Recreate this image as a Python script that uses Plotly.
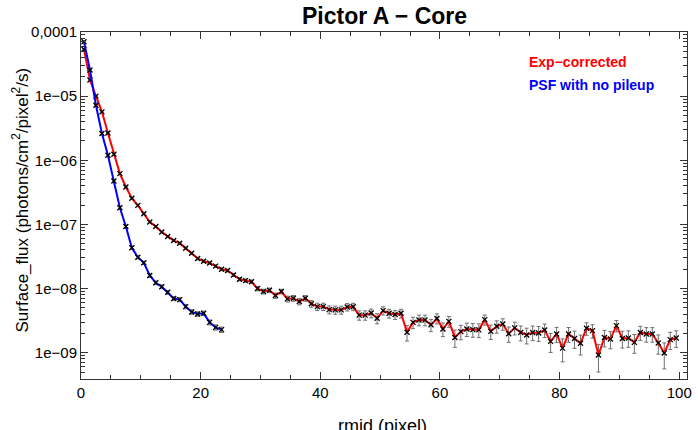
import plotly.graph_objects as go

# ---------------- data ----------------
rmid_exp = [0.5, 1.5, 2.5, 3.5, 4.5, 5.5, 6.5, 7.5, 8.5, 9.5,
            10.5, 11.5, 12.5, 13.5, 14.5, 15.5, 16.5, 17.5, 18.5, 19.5,
            20.5, 21.5, 22.5, 23.5, 24.5, 25.5, 26.5, 27.5, 28.5, 29.5,
            30.5, 31.5, 32.5, 33.5, 34.5, 35.5, 36.5, 37.5, 38.5, 39.5,
            40.5, 41.5, 42.5, 43.5, 44.5, 45.5, 46.5, 47.5, 48.5, 49.5,
            50.5, 51.5, 52.5, 53.5, 54.5, 55.5, 56.5, 57.5, 58.5, 59.5,
            60.5, 61.5, 62.5, 63.5, 64.5, 65.5, 66.5, 67.5, 68.5, 69.5,
            70.5, 71.5, 72.5, 73.5, 74.5, 75.5, 76.5, 77.5, 78.5, 79.5,
            80.5, 81.5, 82.5, 83.5, 84.5, 85.5, 86.5, 87.5, 88.5, 89.5,
            90.5, 91.5, 92.5, 93.5, 94.5, 95.5, 96.5, 97.5, 98.5, 99.5]

flux_exp = [5.37e-5, 1.78e-5, 1.0e-5, 5.69e-6, 2.67e-6, 1.24e-6, 6.2e-7, 3.83e-7, 2.56e-7, 1.98e-7,
            1.47e-7, 1.09e-7, 9.3e-8, 7.6e-8, 6.5e-8, 5.6e-8, 5.1e-8, 4.26e-8, 3.56e-8, 2.94e-8,
            2.67e-8, 2.5e-8, 2.24e-8, 2.0e-8, 1.91e-8, 1.63e-8, 1.4e-8, 1.33e-8, 1.28e-8, 1.0e-8,
            9.0e-9, 9.4e-9, 7.78e-9, 9.0e-9, 6.9e-9, 7.05e-9, 6.27e-9, 7.05e-9, 5.8e-9, 5.23e-9,
            5.23e-9, 4.7e-9, 4.65e-9, 4.65e-9, 5.15e-9, 5.2e-9, 3.85e-9, 3.85e-9, 4.15e-9, 3.44e-9,
            4.53e-9, 4.11e-9, 3.93e-9, 4.11e-9, 2.08e-9, 2.97e-9, 3.24e-9, 3.24e-9, 2.72e-9, 3.42e-9,
            2.34e-9, 3.08e-9, 1.73e-9, 2.13e-9, 2.34e-9, 2.29e-9, 2.27e-9, 3.28e-9, 2.15e-9, 2.58e-9,
            2.81e-9, 1.98e-9, 2.44e-9, 2.07e-9, 1.89e-9, 2.07e-9, 2.03e-9, 2.26e-9, 1.5e-9, 1.96e-9,
            1.18e-9, 1.96e-9, 1.67e-9, 1.4e-9, 2.4e-9, 2.21e-9, 9.2e-10, 1.73e-9, 1.64e-9, 2.64e-9,
            1.67e-9, 1.7e-9, 1.45e-9, 2.07e-9, 1.96e-9, 1.96e-9, 1.42e-9, 9.9e-10, 1.6e-9, 1.7e-9]

err_exp = [1.5e-6, 5e-7, 2.8e-7, 1.6e-7, 8e-8, 4e-8, 2e-8, 1.3e-8, 9e-9, 7e-9,
           4e-9, 3.5e-9, 3e-9, 2.6e-9, 2.3e-9, 2e-9, 1.8e-9, 1.6e-9, 1.4e-9, 1.3e-9,
           1.2e-9, 1.1e-9, 1.05e-9, 1e-9, 9.5e-10, 9e-10, 8.5e-10, 8.2e-10, 8e-10, 7.8e-10,
           7.6e-10, 7.6e-10, 7.4e-10, 7.5e-10, 7.2e-10, 7.2e-10, 7e-10, 7.1e-10, 6.9e-10, 6.8e-10,
           6.8e-10, 6.7e-10, 6.7e-10, 6.6e-10, 6.8e-10, 6.8e-10, 6.4e-10, 6.4e-10, 6.5e-10, 6.2e-10,
           6.6e-10, 6.4e-10, 6.3e-10, 6.4e-10, 5.6e-10, 6e-10, 6.1e-10, 6.1e-10, 5.9e-10, 6.1e-10,
           5.6e-10, 5.9e-10, 5.2e-10, 5.4e-10, 5.5e-10, 5.5e-10, 5.5e-10, 5.9e-10, 5.4e-10, 5.6e-10,
           5.7e-10, 5.3e-10, 5.5e-10, 5.4e-10, 5.2e-10, 5.3e-10, 5.3e-10, 5.4e-10, 4.9e-10, 5.2e-10,
           4.6e-10, 5.1e-10, 5.0e-10, 4.8e-10, 5.3e-10, 5.2e-10, 4.2e-10, 5.0e-10, 4.9e-10, 5.3e-10,
           4.9e-10, 4.9e-10, 4.7e-10, 5.1e-10, 5.0e-10, 5.0e-10, 4.7e-10, 4.3e-10, 4.8e-10, 4.9e-10]

rmid_psf = [0.5, 1.5, 2.5, 3.5, 4.5, 5.5, 6.5, 7.5, 8.5, 9.5, 10.5, 11.5,
            12.5, 13.5, 14.5, 15.5, 16.5, 17.5, 18.5, 19.5, 20.5, 21.5, 22.5, 23.5]

flux_psf = [7.05e-5, 2.55e-5, 7.2e-6, 2.61e-6, 1.2e-6, 4.75e-7, 1.82e-7, 9.3e-8,
            4.33e-8, 3.08e-8, 2.52e-8, 1.6e-8, 1.23e-8, 1.07e-8, 8.75e-9, 6.98e-9,
            6.73e-9, 5.23e-9, 4.32e-9, 4.02e-9, 4.11e-9, 2.97e-9, 2.48e-9, 2.29e-9]

err_psf = [1.5e-6, 6e-7, 2e-7, 8e-8, 4e-8, 1.8e-8, 8e-9, 4.5e-9,
           2.3e-9, 1.7e-9, 1.4e-9, 1e-9, 8e-10, 7e-10, 6e-10, 5e-10,
           5e-10, 4e-10, 3.5e-10, 3.3e-10, 3.3e-10, 2.6e-10, 2.3e-10, 2.2e-10]

ytick_vals = [1e-9, 1e-8, 1e-7, 1e-6, 1e-5, 1e-4]
ytick_text = ["1e\u221209", "1e\u221208", "1e\u221207", "1e\u221206", "1e\u221205", "0,0001"]

title_text = "Pictor A \u2212 Core"
xtitle_text = "rmid (pixel)"
ytitle_text = "Surface_flux (photons/cm<sup>2</sup>/pixel<sup>2</sup>/s)"
legend_exp = "Exp\u2212corrected"
legend_psf = "PSF with no pileup"

# ---------------- figure ----------------
FONT = "Liberation Sans, Arial, Helvetica, sans-serif"
marker_style = dict(symbol="x-thin-open", size=5, color="black",
                    line=dict(color="black", width=1.3))

fig = go.Figure()
fig.add_trace(go.Scatter(
    x=rmid_exp, y=flux_exp, mode="lines+markers",
    line=dict(color="#ff0000", width=2),
    marker=marker_style,
    error_y=dict(type="data", array=err_exp, color="#707070", thickness=1, width=2),
    showlegend=False))
fig.add_trace(go.Scatter(
    x=rmid_psf, y=flux_psf, mode="lines+markers",
    line=dict(color="#0000ff", width=2),
    marker=marker_style,
    error_y=dict(type="data", array=err_psf, color="#707070", thickness=1, width=2),
    showlegend=False))

minor_y = [m * 10.0 ** e for e in range(-10, -4) for m in range(2, 10)]

fig.update_layout(
    width=698, height=430,
    margin=dict(l=81, r=6, t=32, b=51),
    paper_bgcolor="white", plot_bgcolor="white",
    font=dict(family=FONT, color="black", size=15),
    xaxis=dict(range=[0, 101.3], showgrid=False, zeroline=False,
               showline=True, linecolor="#333333", linewidth=1, mirror="ticks",
               ticks="inside", ticklen=7, tickwidth=1, tickcolor="#333333",
               tick0=0, dtick=20, tickfont=dict(size=15, family=FONT, color="black"),
               minor=dict(ticks="inside", ticklen=4, dtick=5, tick0=0,
                          tickcolor="#333333", showgrid=False)),
    yaxis=dict(type="log", range=[-9.41, -4.0], showgrid=False, zeroline=False,
               showline=True, linecolor="#333333", linewidth=1, mirror="ticks",
               ticks="inside", ticklen=7, tickwidth=1, tickcolor="#333333",
               tickmode="array", tickvals=ytick_vals, ticktext=ytick_text,
               tickfont=dict(size=15, family=FONT, color="black"),
               minor=dict(ticks="inside", ticklen=4, tickmode="array",
                          tickvals=minor_y, tickcolor="#333333", showgrid=False)),
)

fig.add_annotation(text="<b>%s</b>" % title_text, xref="paper", yref="paper",
                   x=0.5, y=1 + (32 - 16) / 347, xanchor="center", yanchor="middle",
                   showarrow=False, font=dict(size=23, family=FONT, color="black"))
fig.add_annotation(text=ytitle_text, xref="paper", yref="paper",
                   x=(20 - 81) / 611, y=(379 - 200) / 347, textangle=-90,
                   xanchor="center", yanchor="middle", showarrow=False,
                   font=dict(size=17, family=FONT, color="black"))
fig.add_annotation(text=xtitle_text, xref="paper", yref="paper",
                   x=0.4975, y=(379 - 414) / 347, xanchor="center", yanchor="top",
                   showarrow=False, font=dict(size=18, family=FONT, color="black"))
fig.add_annotation(text="<b>%s</b>" % legend_exp, xref="paper", yref="paper",
                   x=(531 - 81) / 611, y=(379 - 62) / 347, xanchor="left", yanchor="middle",
                   showarrow=False, font=dict(size=14, family=FONT, color="#ff0000"))
fig.add_annotation(text="<b>%s</b>" % legend_psf, xref="paper", yref="paper",
                   x=(531 - 81) / 611, y=(379 - 85) / 347, xanchor="left", yanchor="middle",
                   showarrow=False, font=dict(size=14, family=FONT, color="#0000ff"))

# remove the default 8px page margin so the figure sits at the window's corner
fig.write_html("out.html", config={"displayModeBar": False},
               post_script="document.body.style.margin='0';document.body.style.padding='0';")
